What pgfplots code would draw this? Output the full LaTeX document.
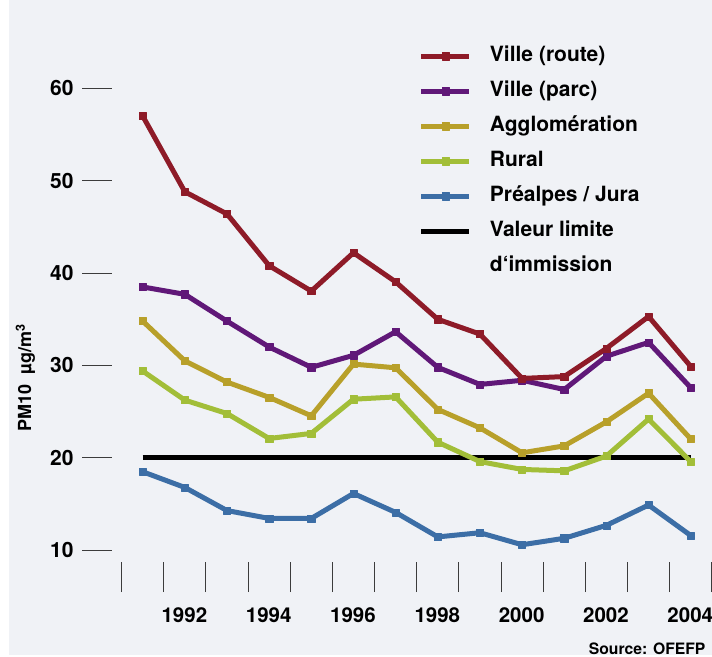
\documentclass[border=0pt]{standalone}
\usepackage{pgfplots}
\pgfplotsset{compat=1.18}
\usepackage{fontspec}
\setmainfont{TeX Gyre Heros}
\definecolor{bgc}{RGB}{240,242,246}
\definecolor{cred}{RGB}{142,27,40}
\definecolor{cpur}{RGB}{96,24,120}
\definecolor{cgold}{RGB}{184,160,42}
\definecolor{cgreen}{RGB}{162,190,56}
\definecolor{cblue}{RGB}{60,110,166}
\definecolor{tickc}{RGB}{60,60,60}
\begin{document}
\begin{tikzpicture}[font=\fontsize{21}{25}\selectfont\bfseries]
\path[use as bounding box] (0pt,0pt) rectangle (712pt,656pt);
\fill[bgc] (9pt,1pt) rectangle (712pt,656pt);
\begin{axis}[
  at={(112pt,94pt)}, anchor=south west,
  scale only axis, width=599.8pt, height=492.2pt,
  xmin=1990.272, xmax=2004.5, ymin=8.734, ymax=62,
  axis line style={draw=none},
  clip=false,
  tick align=outside,
  major tick length=30pt,
  tick style={tickc, line width=1pt},
  xtick pos=bottom, ytick pos=left,
  xtick={1990.5,1991.5,1992.5,1993.5,1994.5,1995.5,1996.5,1997.5,1998.5,1999.5,2000.5,2001.5,2002.5,2003.5,2004.5},
  xticklabels={,1992,,1994,,1996,,1998,,2000,,2002,,2004,},
  xticklabel style={xshift=20.6pt, yshift=-12pt, font=\fontsize{20.5}{25}\selectfont\bfseries},
  ytick={10,20,30,40,50,60},
  yticklabel style={xshift=-5pt, font=\fontsize{21}{25}\selectfont\bfseries},
  /pgf/number format/assume math mode=true,
  /pgf/number format/1000 sep={},
  ylabel={PM10\hspace{10pt}µg/m\textsuperscript{3}},
  ylabel style={font=\fontsize{18}{21}\selectfont\bfseries, at={(axis description cs:-0.1350,0.3738)}, anchor=base},
  legend cell align=left,
  reverse legend,
  legend image code/.code={\draw[#1, mark repeat=2, mark phase=2] plot coordinates {(0pt,0pt) (24pt,0pt) (48pt,0pt)};},
  legend style={at={(axis description cs:0.5118,1.0488)}, anchor=north west, draw=none, fill=none,
    inner sep=0pt, outer sep=0pt, row sep=14pt, column sep=18pt,
    font=\fontsize{21}{25}\selectfont\bfseries,
    nodes={inner sep=0pt, text height=16pt, text depth=5pt}},
  every axis plot/.append style={line width=5pt, line join=round, mark=square*, mark size=3.6pt, mark options={line width=0.5pt}},
]
\addlegendimage{empty legend}
\addlegendentry{d‘immission}

\addplot[black, mark=none] coordinates {(1991,20) (2004,20)};
\addlegendentry{Valeur limite}

\addplot[cblue] coordinates {
(1991,18.5) (1992,16.8) (1993,14.3) (1994,13.45) (1995,13.45) (1996,16.15) (1997,14.1)
(1998,11.45) (1999,11.9) (2000,10.6) (2001,11.3) (2002,12.7) (2003,14.9) (2004,11.6)};
\addlegendentry{Préalpes / Jura}

\addplot[cgreen] coordinates {
(1991,29.4) (1992,26.25) (1993,24.8) (1994,22.1) (1995,22.65) (1996,26.35) (1997,26.6)
(1998,21.7) (1999,19.6) (2000,18.75) (2001,18.6) (2002,20.2) (2003,24.2) (2004,19.6)};
\addlegendentry{Rural}

\addplot[cgold] coordinates {
(1991,34.8) (1992,30.5) (1993,28.2) (1994,26.55) (1995,24.55) (1996,30.15) (1997,29.75)
(1998,25.25) (1999,23.25) (2000,20.55) (2001,21.3) (2002,23.9) (2003,27.0) (2004,22.05)};
\addlegendentry{Agglomération}

\addplot[cpur] coordinates {
(1991,38.5) (1992,37.7) (1993,34.8) (1994,32.0) (1995,29.8) (1996,31.1) (1997,33.65)
(1998,29.8) (1999,27.95) (2000,28.4) (2001,27.4) (2002,31.0) (2003,32.5) (2004,27.6)};
\addlegendentry{Ville (parc)}

\addplot[cred] coordinates {
(1991,57.0) (1992,48.8) (1993,46.4) (1994,40.8) (1995,38.05) (1996,42.2) (1997,39.05)
(1998,35.0) (1999,33.4) (2000,28.6) (2001,28.8) (2002,31.85) (2003,35.3) (2004,29.9)};
\addlegendentry{Ville (route)}
\end{axis}
\node[anchor=base east, font=\fontsize{15.7}{18}\selectfont\bfseries] at (709pt,2pt) {Source: OFEFP};
\end{tikzpicture}
\end{document}
